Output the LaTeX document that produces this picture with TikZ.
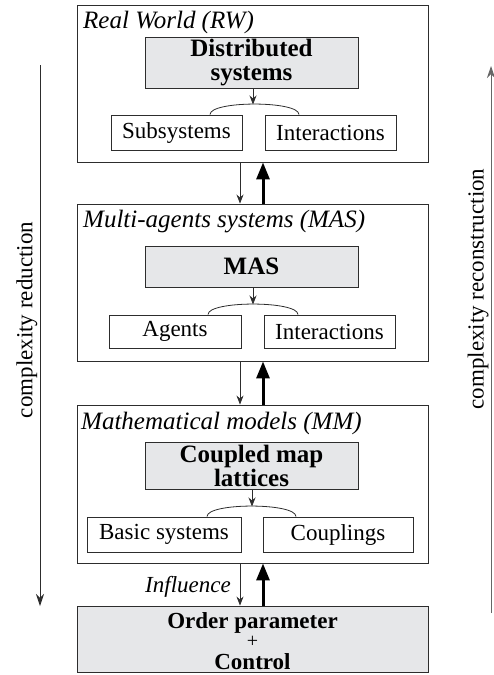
\documentclass[tikz,border=0pt]{standalone}
\usepackage{fontspec}
\setmainfont{Liberation Serif}
\usetikzlibrary{arrows.meta}
\definecolor{boxgray}{RGB}{230,231,233}
\definecolor{linecol}{RGB}{45,45,45}
\begin{document}
\begin{tikzpicture}[x=1pt,y=-1pt,
  frame/.style={draw=linecol, line width=0.9pt, minimum width=351pt, inner sep=0pt},
  graybox/.style={draw=linecol, fill=boxgray, line width=0.9pt, minimum width=213pt, inner sep=0pt, align=center, font=\fontsize{25}{24}\selectfont\bfseries},
  subbox/.style={draw=linecol, line width=0.9pt, minimum width=131pt, minimum height=35pt, inner sep=0pt, font=\fontsize{23}{24}\selectfont},
  titletxt/.style={anchor=west, inner sep=0pt, font=\fontsize{25}{26}\selectfont\itshape},
  downarr/.style={draw=linecol, line width=0.8pt, -{Stealth[length=9pt,width=7pt]}},
  uparr/.style={draw=black, line width=3pt, -{Triangle[length=17pt,width=13pt]}},
  arcline/.style={draw=linecol, line width=0.8pt},
  sidearr/.style={line width=0.9pt, -{Stealth[length=12pt,width=8pt]}},
  sidetxt/.style={rotate=90, inner sep=0pt, font=\fontsize{23}{24}\selectfont},
  optxt/.style={inner sep=0pt, anchor=base, font=\fontsize{23}{24}\selectfont\bfseries},
]
\useasboundingbox (0,0) rectangle (494,675);

% frames
\node[frame, minimum height=157pt] (rw) at (252.5,83.5) {};
\node[frame, minimum height=157pt] (mas) at (252.5,282.5) {};
\node[frame, minimum height=158pt] (mm) at (252.5,484) {};
\node[graybox, minimum width=351pt, minimum height=66pt] (op) at (252.5,639) {};

% titles
\node[titletxt] (trw) at (83,22) {Real World (RW)};
\node[titletxt] (tmas) at (83,222) {Multi-agents systems (MAS)};
\node[titletxt] (tmm) at (81,423) {Mathematical models (MM)};

% gray boxes
\node[graybox, minimum height=51pt] (ds) at (251.5,62.5) {Distributed\\systems};
\node[graybox, minimum height=41pt] (masb) at (251.5,266.5) {MAS};
\node[graybox, minimum height=47pt] (cml) at (251.5,465.5) {Coupled map\\lattices};

% sub boxes
\node[subbox] (s1) at (176.5,132.5) {Subsystems};
\node[subbox] (s2) at (330.5,132.5) {Interactions};
\node[subbox, minimum height=33pt, minimum width=132pt] (a1) at (175,331.5) {Agents};
\node[subbox, minimum height=33pt] (a2) at (329.5,331.5) {Interactions};
\node[subbox, minimum width=154pt] (b1) at (164,534.5) {Basic systems};
\node[subbox, minimum width=150pt] (b2) at (338,534.5) {Couplings};

% bottom box text
\node[optxt, text height=16pt, text depth=5pt] (opt1) at (252.5,628.5) {Order parameter};
\node[inner sep=0pt, anchor=base, text height=11pt, text depth=0pt, font=\fontsize{20}{20}\selectfont] (opt2) at (252.5,647.5) {+};
\node[optxt, text height=15pt, text depth=0pt] (opt3) at (252.5,669) {Control};

% coordinates
\coordinate (xdn) at (240,0);
\coordinate (xup) at (263,0);

% arcs and arrows inside frames
\draw[arcline] (s1.north -| 210,0) .. controls +(0,-14) and +(0,-14) .. (s2.north -| 299,0);
\coordinate (ap1) at (253,104.5);
\draw[downarr] (ds.south -| ap1) -- (ap1);

\draw[arcline] (a1.north -| 208,0) .. controls +(0,-14) and +(0,-14) .. (a2.north -| 298,0);
\coordinate (ap2) at (253,304.5);
\draw[downarr] (masb.south -| ap2) -- (ap2);

\draw[arcline] (b1.north -| 207,0) .. controls +(0,-14) and +(0,-14) .. (b2.north -| 296,0);
\coordinate (ap3) at (252,506.5);
\draw[downarr] (cml.south -| ap3) -- (ap3);

% between frames
\draw[downarr] (rw.south -| xdn) -- (mas.north -| xdn);
\draw[uparr] (mas.north -| xup) -- (rw.south -| xup);
\draw[downarr] (mas.south -| xdn) -- (mm.north -| xdn);
\draw[uparr] (mm.north -| xup) -- (mas.south -| xup);
\draw[downarr] (mm.south -| xdn) -- (op.north -| xdn);
\draw[uparr] (op.north -| xup) -- (mm.south -| xup);

\node[inner sep=0pt, anchor=east, font=\fontsize{23}{24}\selectfont\itshape] (infl) at (231,587) {Influence};

% side arrows
\coordinate (l1) at (40,65);
\coordinate (l2) at (40,606);
\draw[sidearr, draw=linecol] (l1) -- (l2);
\node[sidetxt] (ltxt) at (27,320) {complexity reduction};

\coordinate (r1) at (491,613);
\coordinate (r2) at (491,66);
\draw[sidearr, draw=black!60] (r1) -- (r2);
\node[sidetxt] (rtxt) at (478,289) {complexity reconstruction};
\end{tikzpicture}
\end{document}
